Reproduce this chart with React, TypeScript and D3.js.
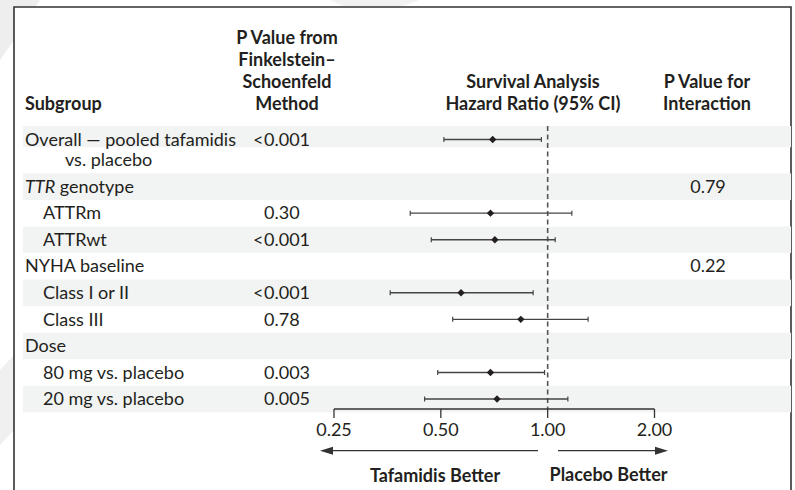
import React from "react";
import * as d3 from "d3";

// Subgroup rows of the forest plot
const subgroupLabels = [
  "TTR genotype",
  "ATTRm",
  "ATTRwt",
  "NYHA baseline",
  "Class I or II",
  "Class III",
  "Dose",
  "80 mg vs. placebo",
  "20 mg vs. placebo",
];
const subgroupIndent = [0, 1, 1, 0, 1, 1, 0, 1, 1];
const pValueFS = ["", "0.30", "<0.001", "", "<0.001", "0.78", "", "0.003", "0.005"];
const pValueInteraction = ["0.79", "", "", "0.22", "", "", "", "", ""];
const hazardRatio = [NaN, 0.69, 0.71, NaN, 0.57, 0.84, NaN, 0.69, 0.72];
const ciLower = [NaN, 0.41, 0.47, NaN, 0.36, 0.54, NaN, 0.49, 0.45];
const ciUpper = [NaN, 1.17, 1.05, NaN, 0.91, 1.30, NaN, 0.98, 1.14];

// Pooled overall estimate
const overallLabel = ["Overall — pooled tafamidis", "vs. placebo"];
const overallP = "<0.001";
const overallHR = 0.7;
const overallLower = 0.51;
const overallUpper = 0.96;

const axisTicks = [0.25, 0.5, 1, 2];
const axisTickLabels = ["0.25", "0.50", "1.00", "2.00"];

const W = 795;
const H = 490;
const FONT = "Lato, 'Noto Sans', sans-serif";
const INK = "#231f20";
const BAND = "#f2f3f3";

const x = d3.scaleLog().base(2).domain([0.25, 2]).range([334, 654.5]);

const ROW0 = 173.4;
const PITCH = 26.55;
const rowTop = (i: number) => ROW0 + i * PITCH;

function Estimate({ y, hr, lo, hi }: { y: number; hr: number; lo: number; hi: number }) {
  const s = 3.7;
  const cx = x(hr);
  return (
    <g>
      <line x1={x(lo)} x2={x(hi)} y1={y} y2={y} stroke="#444" strokeWidth={1.4} />
      <line x1={x(lo)} x2={x(lo)} y1={y - 2.5} y2={y + 2.5} stroke="#444" strokeWidth={1.2} />
      <line x1={x(hi)} x2={x(hi)} y1={y - 2.5} y2={y + 2.5} stroke="#444" strokeWidth={1.2} />
      <path d={`M${cx},${y - s} L${cx + s},${y} L${cx},${y + s} L${cx - s},${y} Z`} fill={INK} />
    </g>
  );
}

function PText({ x0, y, v }: { x0: number; y: number; v: string }) {
  if (!v) return null;
  if (v.startsWith("<")) {
    return (
      <g>
        <text x={x0 - 0.5} y={y} textAnchor="end">{"<"}</text>
        <text x={x0} y={y}>{v.slice(1)}</text>
      </g>
    );
  }
  return <text x={x0} y={y}>{v}</text>;
}

export default function App() {
  const pX = 264;
  const intX = 708;
  const axisY = 409;
  const arrowY = 450.7;

  return (
    <svg
      width={W}
      height={H}
      viewBox={`0 0 ${W} ${H}`}
      style={{ position: "absolute", left: 0, top: 0, background: "#fff" }}
      fontFamily={FONT}
      fontSize={18}
      fill={INK}
    >
      {/* faint backdrop outside the panel */}
      <path d="M0,0 L40,0 L14,40 L0,60 Z" fill="#eeeeee" />
      <path d="M0,370 L14,355 L14,430 L0,445 Z" fill="#f0f0f0" />
      <path d="M330,0 L420,0 L400,7 L345,7 Z" fill="#f2f2f2" />

      {/* panel frame */}
      <rect x={14} y={7} width={777} height={H} fill="#fff" />
      <path d={`M14,${H} L14,7 L791,7 L791,${H}`} fill="none" stroke="#333" strokeWidth={1.6} />

      {/* row bands */}
      <rect x={23} y={126} width={768} height={21.3} fill={BAND} />
      {subgroupLabels.map((_, i) =>
        i % 2 === 0 ? (
          <rect key={i} x={23} y={rowTop(i)} width={768} height={PITCH} fill={BAND} />
        ) : null
      )}

      {/* column headings */}
      <g fontWeight={700}>
        <text x={25} y={110}>Subgroup</text>
        {["P Value from", "Finkelstein–", "Schoenfeld", "Method"].map((t, i) => (
          <text key={t} x={287} y={44 + i * 22} textAnchor="middle">{t}</text>
        ))}
        <text x={533} y={88} textAnchor="middle">Survival Analysis</text>
        <text x={533} y={110} textAnchor="middle">Hazard Ratio (95% CI)</text>
        <text x={707} y={88} textAnchor="middle">P Value for</text>
        <text x={707} y={110} textAnchor="middle">Interaction</text>
      </g>

      {/* reference line at HR = 1 */}
      <line x1={x(1)} x2={x(1)} y1={126} y2={axisY} stroke="#555" strokeWidth={1.6} strokeDasharray="5,3.5" />

      {/* overall row */}
      <text x={25} y={145.7}>{overallLabel[0]}</text>
      <text x={65} y={166}>{overallLabel[1]}</text>
      <PText x0={pX} y={145.7} v={overallP} />
      <Estimate y={139.5} hr={overallHR} lo={overallLower} hi={overallUpper} />

      {/* subgroup rows */}
      {subgroupLabels.map((lab, i) => {
        const top = rowTop(i);
        const base = top + 19.4;
        const lx = subgroupIndent[i] ? 43 : 25;
        return (
          <g key={lab}>
            {lab.startsWith("TTR") ? (
              <text x={lx} y={base}>
                <tspan fontStyle="italic">TTR</tspan>
                {lab.slice(3)}
              </text>
            ) : (
              <text x={lx} y={base}>{lab}</text>
            )}
            <PText x0={pX} y={base} v={pValueFS[i]} />
            {pValueInteraction[i] ? (
              <text x={intX} y={base} textAnchor="middle">{pValueInteraction[i]}</text>
            ) : null}
            {!isNaN(hazardRatio[i]) ? (
              <Estimate y={top + 13.2} hr={hazardRatio[i]} lo={ciLower[i]} hi={ciUpper[i]} />
            ) : null}
          </g>
        );
      })}

      {/* hazard ratio axis */}
      <line x1={x(0.25)} x2={x(2)} y1={axisY} y2={axisY} stroke="#333" strokeWidth={1.3} />
      {axisTicks.map((t, i) => (
        <g key={t}>
          <line x1={x(t)} x2={x(t)} y1={axisY} y2={axisY + 9} stroke="#333" strokeWidth={1.3} />
          <text x={x(t)} y={435.5} textAnchor="middle">{axisTickLabels[i]}</text>
        </g>
      ))}

      {/* direction arrows */}
      <line x1={538} x2={326} y1={arrowY} y2={arrowY} stroke="#333" strokeWidth={1.3} />
      <path d={`M320,${arrowY} L333,${arrowY - 4} L333,${arrowY + 4} Z`} fill="#333" />
      <line x1={558} x2={662} y1={arrowY} y2={arrowY} stroke="#333" strokeWidth={1.3} />
      <path d={`M668,${arrowY} L655,${arrowY - 4} L655,${arrowY + 4} Z`} fill="#333" />
      <g fontWeight={700}>
        <text x={435} y={481.5} textAnchor="middle">Tafamidis Better</text>
        <text x={608.5} y={481} textAnchor="middle">Placebo Better</text>
      </g>
    </svg>
  );
}
